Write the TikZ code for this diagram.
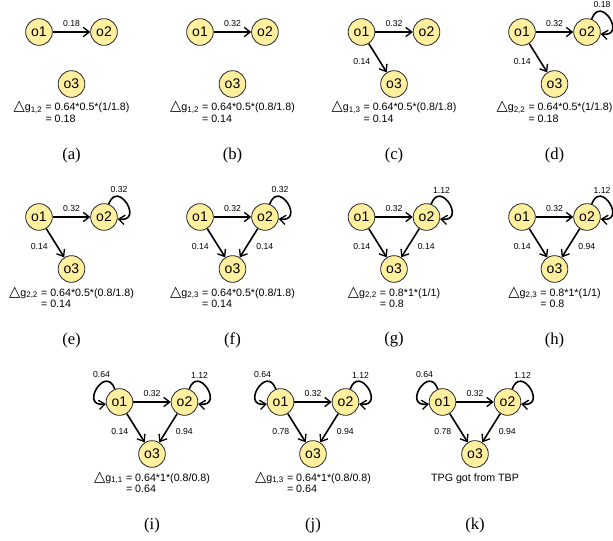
\documentclass[tikz,border=0pt]{standalone}
\usepackage{fontspec}
\setmainfont{Liberation Sans}
\newfontfamily\seriffont{Liberation Serif}
\newfontfamily\djvfont{DejaVu Sans}
\usetikzlibrary{arrows.meta,calc}
\definecolor{objfill}{RGB}{255,240,160}
\newcommand\mydg[1]{{\djvfont\fontsize{11}{11}\selectfont △}g\textsubscript{#1}}
\newcommand\fml[3]{\begin{tabular}[t]{@{}r@{}l@{}}\mydg{#1} & \ = #2\\ & \ = #3\end{tabular}}
\newcommand\rloop[2]{\draw[arr] (#1.70) .. controls +(70:27) and +(-8:27) .. (#1.-8);
  \path (#1.center) ++(15,27) node[elab] (#1l) {#2};}
\newcommand\lloop[2]{\draw[arr] (#1.110) .. controls +(110:27) and +(188:27) .. (#1.188);
  \path (#1.center) ++(-18,27) node[elab] (#1l) {#2};}
\tikzset{
 obj/.style={circle, draw=black!85, line width=0.6pt, fill=objfill, minimum size=20pt, inner sep=0pt, font=\fontsize{10.5}{12}\selectfont},
 arr/.style={line width=1.2pt, -{Straight Barb[length=4.5pt,width=7pt,line width=1pt]}},
 elab/.style={font=\fontsize{6.5}{7.5}\selectfont, inner sep=0pt},
 form/.style={font=\fontsize{8}{8.5}\selectfont, inner sep=0pt, anchor=base},
 plabel/.style={font=\seriffont\fontsize{12.5}{14}\selectfont, inner sep=0pt},
 hlab/.style={elab, midway, yshift=6.5pt},
 llab/.style={elab, midway, xshift=-12pt, yshift=-2.5pt},
 rlab/.style={elab, midway, xshift=12pt, yshift=-2.5pt},
}
\begin{document}
\begin{tikzpicture}[x=0.75pt,y=0.75pt]
\fill[white] (0,0) rectangle (613,540);
\useasboundingbox (0,0) rectangle (613,540);

% (a)
\begin{scope}[shift={(71.5,508)}]
\node[obj] (a1) at (-32.5,0) {o1};
\node[obj] (a2) at (32.5,0) {o2};
\node[obj] (a3) at (0,-52) {o3};
\draw[arr] (a1) -- node[hlab] {0.18} (a2);
\node[form] (af) at (0,-79) {\fml{1,2}{0.64*0.5*(1/1.8)}{0.18}};
\node[plabel] (al) at (0,-123) {(a)};
\end{scope}

% (b)
\begin{scope}[shift={(232.5,508)}]
\node[obj] (b1) at (-32.5,0) {o1};
\node[obj] (b2) at (32.5,0) {o2};
\node[obj] (b3) at (0,-52) {o3};
\draw[arr] (b1) -- node[hlab] {0.32} (b2);
\node[form] (bf) at (0,-79) {\fml{1,2}{0.64*0.5*(0.8/1.8)}{0.14}};
\node[plabel] (bl) at (0,-123) {(b)};
\end{scope}

% (c)
\begin{scope}[shift={(394,508)}]
\node[obj] (c1) at (-32.5,0) {o1};
\node[obj] (c2) at (32.5,0) {o2};
\node[obj] (c3) at (0,-52) {o3};
\draw[arr] (c1) -- node[hlab] {0.32} (c2);
\draw[arr] (c1) -- node[llab] {0.14} (c3);
\node[form] (cf) at (0,-79) {\fml{1,3}{0.64*0.5*(0.8/1.8)}{0.14}};
\node[plabel] (cl) at (0,-123) {(c)};
\end{scope}

% (d)
\begin{scope}[shift={(554.5,508)}]
\node[obj] (d1) at (-32.5,0) {o1};
\node[obj] (d2) at (32.5,0) {o2};
\node[obj] (d3) at (0,-52) {o3};
\draw[arr] (d1) -- node[hlab] {0.32} (d2);
\draw[arr] (d1) -- node[llab] {0.14} (d3);
\rloop{d2}{0.18}
\node[form] (df) at (0,-79) {\fml{2,2}{0.64*0.5*(1/1.8)}{0.18}};
\node[plabel] (dl) at (0,-123) {(d)};
\end{scope}

% (e)
\begin{scope}[shift={(71.5,323)}]
\node[obj] (e1) at (-32.5,0) {o1};
\node[obj] (e2) at (32.5,0) {o2};
\node[obj] (e3) at (0,-52) {o3};
\draw[arr] (e1) -- node[hlab] {0.32} (e2);
\draw[arr] (e1) -- node[llab] {0.14} (e3);
\rloop{e2}{0.32}
\node[form] (ef) at (0,-79) {\fml{2,2}{0.64*0.5*(0.8/1.8)}{0.14}};
\node[plabel] (el) at (0,-123) {(e)};
\end{scope}

% (f)
\begin{scope}[shift={(232.5,323)}]
\node[obj] (f1) at (-32.5,0) {o1};
\node[obj] (f2) at (32.5,0) {o2};
\node[obj] (f3) at (0,-52) {o3};
\draw[arr] (f1) -- node[hlab] {0.32} (f2);
\draw[arr] (f1) -- node[llab] {0.14} (f3);
\draw[arr] (f2) -- node[rlab] {0.14} (f3);
\rloop{f2}{0.32}
\node[form] (ff) at (0,-79) {\fml{2,3}{0.64*0.5*(0.8/1.8)}{0.14}};
\node[plabel] (fl) at (0,-123) {(f)};
\end{scope}

% (g)
\begin{scope}[shift={(394,323)}]
\node[obj] (g1) at (-32.5,0) {o1};
\node[obj] (g2) at (32.5,0) {o2};
\node[obj] (g3) at (0,-52) {o3};
\draw[arr] (g1) -- node[hlab] {0.32} (g2);
\draw[arr] (g1) -- node[llab] {0.14} (g3);
\draw[arr] (g2) -- node[rlab] {0.14} (g3);
\rloop{g2}{1.12}
\node[form] (gf) at (0,-79) {\fml{2,2}{0.8*1*(1/1)}{0.8}};
\node[plabel] (gl) at (0,-123) {(g)};
\end{scope}

% (h)
\begin{scope}[shift={(554.5,323)}]
\node[obj] (h1) at (-32.5,0) {o1};
\node[obj] (h2) at (32.5,0) {o2};
\node[obj] (h3) at (0,-52) {o3};
\draw[arr] (h1) -- node[hlab] {0.32} (h2);
\draw[arr] (h1) -- node[llab] {0.14} (h3);
\draw[arr] (h2) -- node[rlab] {0.94} (h3);
\rloop{h2}{1.12}
\node[form] (hf) at (0,-79) {\fml{2,3}{0.8*1*(1/1)}{0.8}};
\node[plabel] (hl) at (0,-123) {(h)};
\end{scope}

% (i)
\begin{scope}[shift={(152,138)}]
\node[obj] (i1) at (-32.5,0) {o1};
\node[obj] (i2) at (32.5,0) {o2};
\node[obj] (i3) at (0,-52) {o3};
\draw[arr] (i1) -- node[hlab] {0.32} (i2);
\draw[arr] (i1) -- node[llab] {0.14} (i3);
\draw[arr] (i2) -- node[rlab] {0.94} (i3);
\rloop{i2}{1.12}
\lloop{i1}{0.64}
\node[form] (if) at (0,-79) {\fml{1,1}{0.64*1*(0.8/0.8)}{0.64}};
\node[plabel] (il) at (0,-123) {(i)};
\end{scope}

% (j)
\begin{scope}[shift={(313,138)}]
\node[obj] (j1) at (-32.5,0) {o1};
\node[obj] (j2) at (32.5,0) {o2};
\node[obj] (j3) at (0,-52) {o3};
\draw[arr] (j1) -- node[hlab] {0.32} (j2);
\draw[arr] (j1) -- node[llab] {0.78} (j3);
\draw[arr] (j2) -- node[rlab] {0.94} (j3);
\rloop{j2}{1.12}
\lloop{j1}{0.64}
\node[form] (jf) at (0,-79) {\fml{1,3}{0.64*1*(0.8/0.8)}{0.64}};
\node[plabel] (jl) at (0,-123) {(j)};
\end{scope}

% (k)
\begin{scope}[shift={(475,138)}]
\node[obj] (k1) at (-32.5,0) {o1};
\node[obj] (k2) at (32.5,0) {o2};
\node[obj] (k3) at (0,-52) {o3};
\draw[arr] (k1) -- node[hlab] {0.32} (k2);
\draw[arr] (k1) -- node[llab] {0.78} (k3);
\draw[arr] (k2) -- node[rlab] {0.94} (k3);
\rloop{k2}{1.12}
\lloop{k1}{0.64}
\node[form] (kf) at (0,-79) {TPG got from TBP};
\node[plabel] (kl) at (0,-123) {(k)};
\end{scope}
\end{tikzpicture}
\end{document}
